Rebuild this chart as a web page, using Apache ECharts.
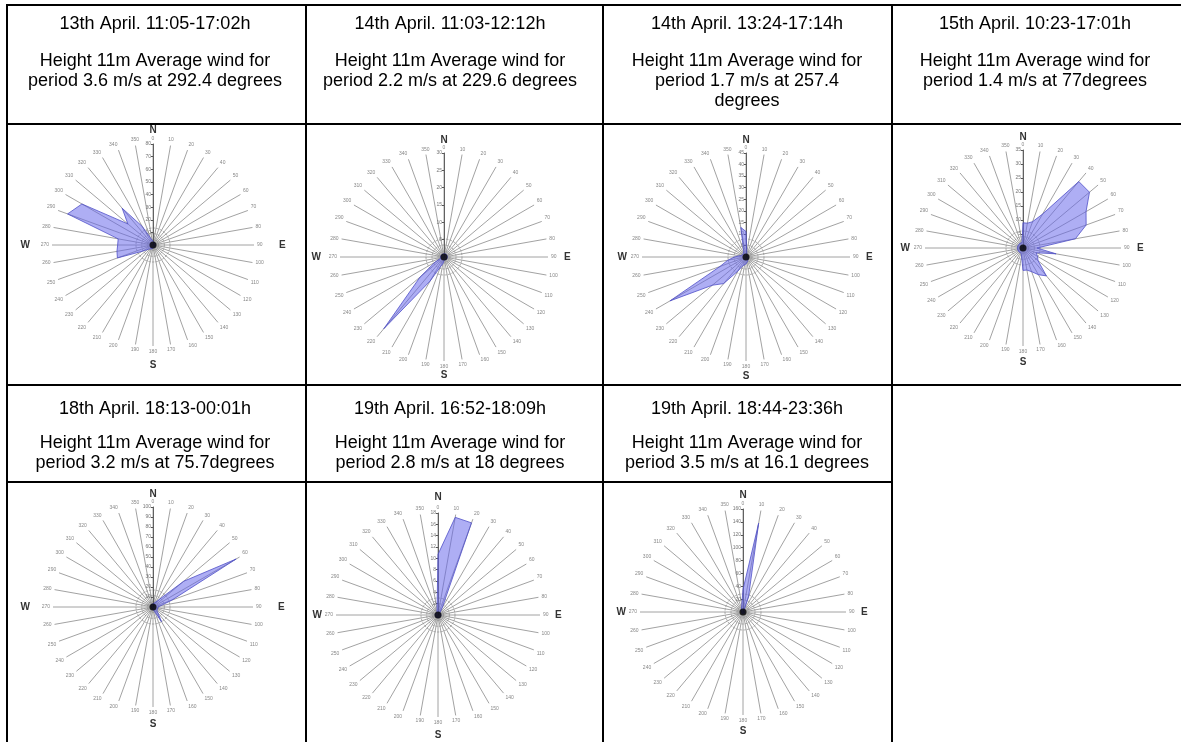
<!DOCTYPE html>
<html>
<head>
<meta charset="utf-8">
<script src="https://cdn.jsdelivr.net/npm/echarts@6/dist/echarts.min.js"></script>
<style>
html,body{margin:0;padding:0;background:#fff;}
#main{width:1181px;height:742px;}
</style>
</head>
<body>
<div id="main"></div>
<script>
// ---------- data ----------
const periodTitles = [
  "13th April. 11:05-17:02h",
  "14th April. 11:03-12:12h",
  "14th April. 13:24-17:14h",
  "15th April. 10:23-17:01h",
  "18th April. 18:13-00:01h",
  "19th April. 16:52-18:09h",
  "19th April. 18:44-23:36h"
];
const periodDescriptions = [
  "Height 11m Average wind for\nperiod 3.6 m/s at 292.4 degrees",
  "Height 11m Average wind for\nperiod 2.2 m/s at 229.6 degrees",
  "Height 11m Average wind for\nperiod 1.7 m/s at 257.4\ndegrees",
  "Height 11m Average wind for\nperiod 1.4 m/s at 77degrees",
  "Height 11m Average wind for\nperiod 3.2 m/s at 75.7degrees",
  "Height 11m Average wind for\nperiod 2.8 m/s at 18 degrees",
  "Height 11m Average wind for\nperiod 3.5 m/s at 16.1 degrees"
];
// direction sectors (degrees)
const directions = [0,10,20,30,40,50,60,70,80,90,100,110,120,130,140,150,160,170,
                    180,190,200,210,220,230,240,250,260,270,280,290,300,310,320,330,340,350];
const compassLabels = ["N","E","S","W"];
// frequency per direction sector, one array per period
const rose1 = [3,2,2,2,2,2,2,2,2,2,2,2,2,2,2,2,2,2,2,3,3,3,4,5,10,30,29,28,28,72,65,26,38,17,6,4];
const rose2 = [1,1,1,1,1,1,1,1,1,1,1,1,1,1,1,1,1,1,1,2,3,8,27,9,3,1,1,1,1,1,1,1,1,1,1,1];
const rose3 = [11,2,1,1,1,1,1,1,1,1,1,1,1,1,1,1,2,2,3,3,4,7,15,19,38,12,8,5,3,2,2,2,2,2,3,13];
const rose4 = [9,9,10,14,31,31,26,24,19,5,12,5,6,7,13,11,9,8,8,3,2,2,2,2,2,2,2,2,2,2,2,2,2,2,2,2];
const rose5 = [3,3,3,4,10,40,96,20,8,5,4,4,4,5,6,17,5,3,3,2,2,2,2,2,2,2,2,2,2,2,2,2,2,2,3,3];
const rose6 = [10.7,17.5,17.3,1.5,0.5,0.5,0.5,0.5,0.5,0.5,0.5,0.5,0.5,0.5,0.5,0.5,0.5,0.5,0.5,0.5,0.5,0.5,0.5,0.5,0.5,0.5,0.5,0.5,0.5,0.5,0.5,0.5,0.5,0.5,0.5,1];
const rose7 = [35,140,25,3,3,3,3,3,3,3,3,3,3,3,3,3,3,3,3,3,3,3,3,3,3,3,3,3,3,3,3,3,3,3,3,3];
const radialMax  = [80, 30, 45, 35, 100, 18, 160];
const radialStep = [10, 5, 5, 5, 10, 2, 20];
const calmCentre = [0, 0];

// ---------- layout ----------
const roses = [rose1, rose2, rose3, rose4, rose5, rose6, rose7];
const centres = [[153,245],[444,257],[746,257],[1023,248],[153,607],[438,615],[743,612]];
const radii = [101,104,104,98,100,102,103];
// distance of compass letters from centre: [north, south, east, west]
const letterDist = [[116,121,130,128],[118,119,124,128],[118,120,124,124],[112,115,118,118],
                    [114,118,129,128],[119,121,121,121],[118,120,122,122]];
const textCentres = [155,450,747,1035,155,450,747];
const FONT = "'Liberation Sans', Arial, sans-serif";

const chart = echarts.init(document.getElementById('main'), null, {renderer:'canvas'});

const title = periodTitles.map((t, i) => {
  const row2 = i >= 4;
  return {
    text: t,
    subtext: periodDescriptions[i],
    left: textCentres[i],
    top: row2 ? 399 : 14,
    textAlign: 'center',
    textVerticalAlign: 'top',
    itemGap: row2 ? 14 : 17,
    padding: 0,
    textStyle: {fontSize: 18, fontWeight: 'normal', color: '#000', lineHeight: 20, fontFamily: FONT},
    subtextStyle: {fontSize: 18, color: '#000', lineHeight: 20, fontFamily: FONT}
  };
});

const polar = [], angleAxis = [], radiusAxis = [], series = [];
const n = roses.length;
// main rose polars
for (let i = 0; i < n; i++) {
  polar.push({center: centres[i], radius: radii[i]});
  angleAxis.push({
    polarIndex: i, type: 'value', min: 0, max: 360, interval: 10,
    startAngle: 90, clockwise: true,
    axisLine: {show: false}, axisTick: {show: false},
    axisLabel: {fontSize: 5, color: '#888', margin: 3, fontFamily: FONT},
    splitLine: {show: true, lineStyle: {color: '#8a8a8a', width: 0.8}}
  });
  radiusAxis.push({
    polarIndex: i, type: 'value', min: 0, max: radialMax[i], interval: radialStep[i],
    axisLine: {show: true, lineStyle: {color: '#555', width: 0.9}},
    axisTick: {show: true, length: 2, lineStyle: {color: '#555'}},
    axisLabel: {show: true, showMinLabel: false, fontSize: 5, color: '#777', margin: 2, fontFamily: FONT},
    splitLine: {show: false}
  });
}
// calm circles around centre
for (let i = 0; i < n; i++) {
  polar.push({center: centres[i], radius: Math.round(radii[i] * 0.17)});
  angleAxis.push({polarIndex: n + i, type: 'value', min: 0, max: 360, show: false});
  radiusAxis.push({
    polarIndex: n + i, type: 'value', min: 0, max: 3, interval: 1,
    axisLine: {show: false}, axisTick: {show: false}, axisLabel: {show: false},
    splitLine: {show: true, lineStyle: {type: 'dashed', color: '#777', width: 0.6}}
  });
}
// compass letters
for (let i = 0; i < n; i++) {
  const [dn, ds, de, dw] = letterDist[i];
  const base = dn - 6;
  polar.push({center: centres[i], radius: base});
  angleAxis.push({
    polarIndex: 2 * n + i, type: 'value', min: 0, max: 360, interval: 90,
    startAngle: 90, clockwise: true,
    axisLine: {show: false}, axisTick: {show: false}, splitLine: {show: false},
    axisLabel: {
      margin: 0, fontSize: 10, fontWeight: 'bold', color: '#333', fontFamily: FONT,
      formatter: v => {
        const k = Math.round(v / 90);
        const t = compassLabels[k];
        if (!t) return '';
        return ['{n|', '{e|', '{s|', '{w|'][k] + t + '}';
      },
      rich: {
        n: {fontSize: 10, fontWeight: 'bold', color: '#333', fontFamily: FONT},
        s: {fontSize: 10, fontWeight: 'bold', color: '#333', fontFamily: FONT, padding: [Math.max(0, ds - base - 6), 0, 0, 0]},
        e: {fontSize: 10, fontWeight: 'bold', color: '#333', fontFamily: FONT, padding: [0, 0, 0, Math.max(0, de - base - 4)]},
        w: {fontSize: 10, fontWeight: 'bold', color: '#333', fontFamily: FONT, padding: [0, Math.max(0, dw - base - 5), 0, 0]}
      }
    }
  });
  radiusAxis.push({polarIndex: 2 * n + i, type: 'value', min: 0, max: 1, show: false});
}

roses.forEach((r, i) => {
  const pts = directions.map((d, k) => [r[k], d]);
  pts.push([r[0], 360]);
  series.push({
    type: 'line', coordinateSystem: 'polar', polarIndex: i,
    data: pts, symbol: 'none', smooth: false, clip: false,
    lineStyle: {color: '#5050c8', width: 0.8},
    areaStyle: {color: 'rgba(100,100,235,0.75)'},
    z: 3, silent: true
  });
  series.push({
    type: 'scatter', coordinateSystem: 'polar', polarIndex: i,
    data: [calmCentre], symbolSize: 7, itemStyle: {color: '#000'}, z: 4, silent: true
  });
});

const L = (x1, y1, x2, y2) => ({type: 'line', shape: {x1, y1, x2, y2}, style: {stroke: '#000', lineWidth: 2}, z: 10});
const graphic = [
  L(6, 5, 1181, 5), L(6, 124, 1181, 124), L(6, 385, 1181, 385), L(6, 482, 892, 482),
  L(7, 4, 7, 742), L(306, 4, 306, 742), L(603, 4, 603, 742), L(892, 4, 892, 742)
];

chart.setOption({
  animation: false,
  backgroundColor: '#fff',
  title, polar, angleAxis, radiusAxis, series, graphic
});
</script>
</body>
</html>
